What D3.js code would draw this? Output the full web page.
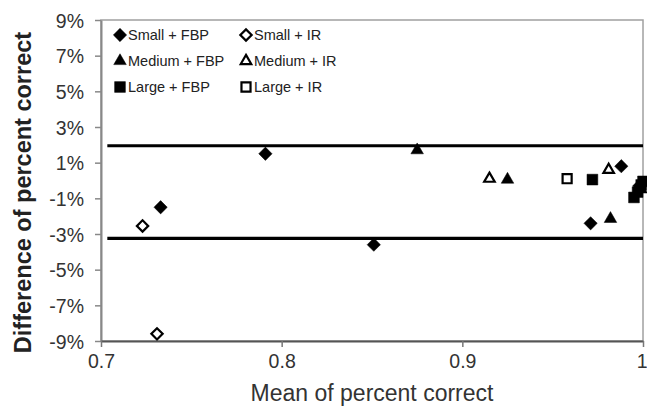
<!DOCTYPE html>
<html><head><meta charset="utf-8">
<script src="https://cdn.jsdelivr.net/npm/d3@7"></script>
<style>body{margin:0;background:#fff}svg{display:block}</style>
</head><body><svg id="c" width="647" height="408"></svg>
<script>
const xTicks = [0.7, 0.8, 0.9, 1.0];
const yTicks = [-9, -7, -5, -3, -1, 1, 3, 5, 7, 9];
const limits = [1.95, -3.25];
const smallFBP = [[0.733,-1.5],[0.791,1.5],[0.851,-3.6],[0.971,-2.4],[0.988,0.8],[0.998,-0.3]];
const smallIR = [[0.723,-2.55],[0.731,-8.6]];
const mediumFBP = [[0.875,1.7],[0.925,0.05],[0.982,-2.15],[0.999,-0.5]];
const mediumIR = [[0.915,0.1],[0.981,0.6]];
const largeFBP = [[0.972,0.05],[0.995,-0.95],[0.997,-0.65],[0.999,-0.25],[1.0,-0.05]];
const largeIR = [[0.958,0.1]];
const seriesNames = ["Small + FBP","Small + IR","Medium + FBP","Medium + IR","Large + FBP","Large + IR"];

const series = [
  {name:seriesNames[0], data:smallFBP, shape:"diamond", filled:true},
  {name:seriesNames[1], data:smallIR, shape:"diamond", filled:false},
  {name:seriesNames[2], data:mediumFBP, shape:"triangle", filled:true},
  {name:seriesNames[3], data:mediumIR, shape:"triangle", filled:false},
  {name:seriesNames[4], data:largeFBP, shape:"square", filled:true},
  {name:seriesNames[5], data:largeIR, shape:"square", filled:false}
];

const svg = d3.select("#c");
const L=101, R=643, T=20, B=341;
const x = d3.scaleLinear().domain([0.7,1.0]).range([L,R]);
const y = d3.scaleLinear().domain([-9,9]).range([B,T]);
const font = "'Liberation Sans', Arial, sans-serif";

// frame
svg.append("rect").attr("x",L).attr("y",T).attr("width",R-L).attr("height",B-T)
  .attr("fill","none").attr("stroke","#a0a0a0").attr("stroke-width",1.5);

const yAxis = svg.append("g").attr("transform",`translate(${L},0)`)
  .call(d3.axisLeft(y).tickValues(yTicks).tickFormat(d=>d+"%").tickSize(6).tickSizeOuter(0));
yAxis.select(".domain").attr("stroke","#888").attr("stroke-width",2);
yAxis.selectAll(".tick line").attr("stroke","#888").attr("stroke-width",1.5);
yAxis.selectAll("text").attr("font-family",font).attr("font-size",19.5).attr("fill","#333").attr("x",-17).attr("dy","0.36em");

const xAxis = svg.append("g").attr("transform",`translate(0,${B})`)
  .call(d3.axisBottom(x).tickValues(xTicks).tickFormat(d=>d===1?"1":d3.format(".1f")(d)).tickSize(6).tickSizeOuter(0));
xAxis.select(".domain").attr("stroke","#555").attr("stroke-width",2);
xAxis.selectAll(".tick line").attr("stroke","#777").attr("stroke-width",1.5);
xAxis.selectAll("text").attr("font-family",font).attr("font-size",19.5).attr("fill","#333").attr("y",13);
xAxis.selectAll(".tick").filter(d=>d===1).select("text").attr("text-anchor","end").attr("x",4);

// limit lines
svg.selectAll("line.lim").data(limits).enter().append("line").attr("class","lim")
  .attr("x1",x(0.7035)).attr("x2",x(1.0)).attr("y1",d=>y(d)).attr("y2",d=>y(d))
  .attr("stroke","#000").attr("stroke-width",3.2);

function sym(shape, filled){
  if(shape==="diamond") return {p:d3.symbol(d3.symbolSquare, filled?88:64)(), rot:45};
  if(shape==="triangle") return {p:d3.symbol(d3.symbolTriangle, filled?68:48)(), rot:0};
  return {p:d3.symbol(d3.symbolSquare, filled?116:82)(), rot:0};
}

series.forEach(s=>{
  const m = sym(s.shape, s.filled);
  svg.append("g").selectAll("path").data(s.data).enter().append("path")
    .attr("d", m.p)
    .attr("transform", d=>`translate(${x(d[0])},${y(d[1])}) rotate(${m.rot})`)
    .attr("fill", s.filled?"#000":"#fff")
    .attr("stroke","#000").attr("stroke-width", s.filled?0.5:2.2);
});

// legend
const leg = svg.append("g");
const colX = [120, 246], rowY = [35, 61, 87];
series.forEach((s,i)=>{
  const cx = colX[i%2], cy = rowY[Math.floor(i/2)];
  const m = sym(s.shape, s.filled);
  leg.append("path").attr("d", m.p)
    .attr("transform", `translate(${cx},${cy}) rotate(${m.rot})`)
    .attr("fill", s.filled?"#000":"#fff").attr("stroke","#000").attr("stroke-width", s.filled?0.5:2.2);
  leg.append("text").attr("x", cx+8).attr("y", cy+5)
    .attr("font-family",font).attr("font-size",14.5).attr("fill","#222").text(s.name);
});

// axis titles
svg.append("text").attr("x",(L+R)/2).attr("y",401).attr("text-anchor","middle")
  .attr("font-family",font).attr("font-size",23).attr("fill","#333").text("Mean of percent correct");
svg.append("text").attr("transform",`translate(31,${(T+B)/2+12}) rotate(-90)`).attr("text-anchor","middle")
  .attr("font-family",font).attr("font-size",23.5).attr("font-weight","bold").attr("fill","#222")
  .text("Difference of percent correct");
</script></body></html>
